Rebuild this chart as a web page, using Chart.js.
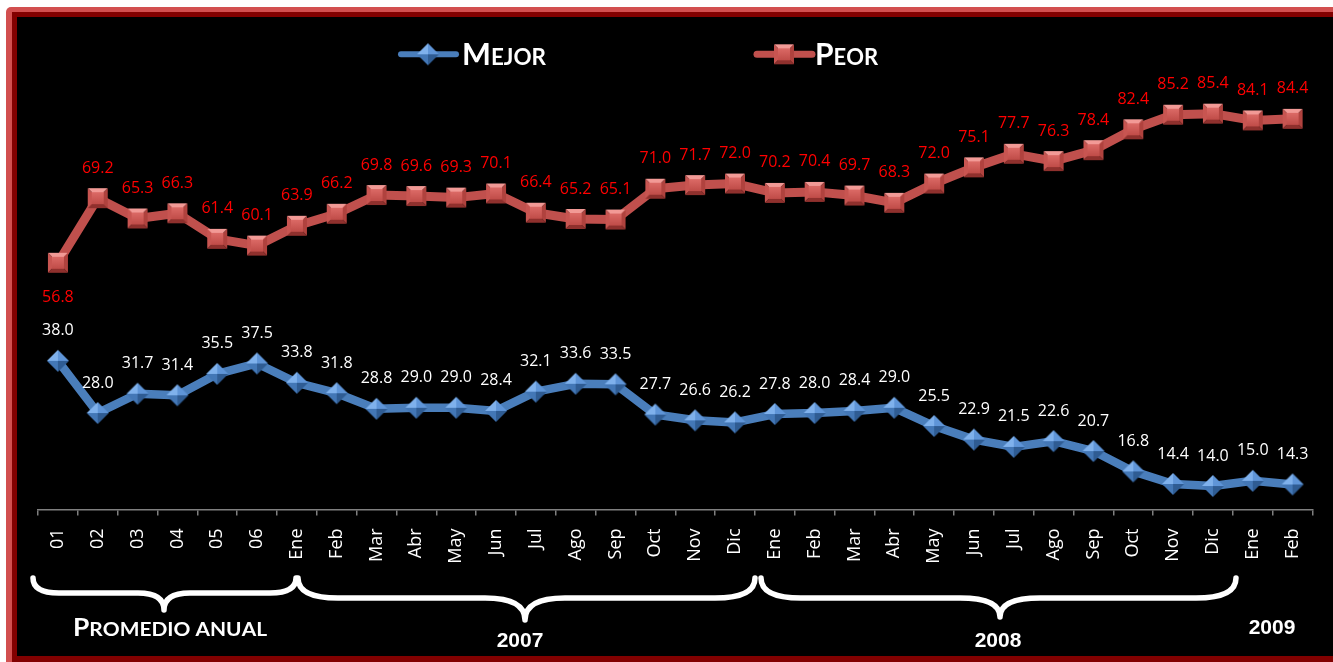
<!DOCTYPE html>
<html><head><meta charset="utf-8">
<script src="https://cdn.jsdelivr.net/npm/chart.js@4.4.0/dist/chart.umd.min.js"></script>
<style>
html,body{margin:0;padding:0;background:#000;overflow:hidden;}
#wrap{position:absolute;left:0;top:0;width:1333px;height:662px;overflow:hidden;background:#fff;}
#f1{position:absolute;left:6px;top:7px;right:0;bottom:0;background:#d24f4f;border-top-left-radius:5px;}
#f2{position:absolute;left:12px;top:12px;right:0;bottom:0;background:#820000;}
#f3{position:absolute;left:17px;top:17px;right:0;height:639px;background:#000;}
#c{position:absolute;left:17px;top:17px;}
</style></head>
<body>
<div id="wrap">
<div id="f1"></div><div id="f2"></div><div id="f3"></div>
<canvas id="c" width="1316" height="639"></canvas>
</div>
<script>
const categories = ['01','02','03','04','05','06','Ene','Feb','Mar','Abr','May','Jun','Jul','Ago','Sep','Oct','Nov','Dic','Ene','Feb','Mar','Abr','May','Jun','Jul','Ago','Sep','Oct','Nov','Dic','Ene','Feb'];
const mejor = [38.0,28.0,31.7,31.4,35.5,37.5,33.8,31.8,28.8,29.0,29.0,28.4,32.1,33.6,33.5,27.7,26.6,26.2,27.8,28.0,28.4,29.0,25.5,22.9,21.5,22.6,20.7,16.8,14.4,14.0,15.0,14.3];
const peor = [56.8,69.2,65.3,66.3,61.4,60.1,63.9,66.2,69.8,69.6,69.3,70.1,66.4,65.2,65.1,71.0,71.7,72.0,70.2,70.4,69.7,68.3,72.0,75.1,77.7,76.3,78.4,82.4,85.2,85.4,84.1,84.4];
const seriesNames = ['Mejor','Peor'];
const groupLabels = ['Promedio anual','2007','2008','2009'];
const peorLabelsBelow = [0];

const BLUE = '#4a7ebb', RED = '#c0504d';

function makeDiamond(){
  const c = document.createElement('canvas'); c.width = 24; c.height = 24;
  const g = c.getContext('2d');
  const tri = (pts, col) => { g.beginPath(); g.moveTo(pts[0][0],pts[0][1]); for (let i=1;i<pts.length;i++) g.lineTo(pts[i][0],pts[i][1]); g.closePath(); g.fillStyle = col; g.fill(); };
  tri([[1,12],[12,1],[12,12]], '#7fb1ec');
  tri([[12,1],[23,12],[12,12]], '#5f95d8');
  tri([[1,12],[12,12],[12,23]], '#4377b6');
  tri([[12,12],[23,12],[12,23]], '#2f5c93');
  return c;
}
function makeSquare(){
  const c = document.createElement('canvas'); c.width = 22; c.height = 22;
  const g = c.getContext('2d');
  const poly = (pts, col) => { g.beginPath(); g.moveTo(pts[0][0],pts[0][1]); for (let i=1;i<pts.length;i++) g.lineTo(pts[i][0],pts[i][1]); g.closePath(); g.fillStyle = col; g.fill(); };
  const a=1,b=21,i1=5,i2=17;
  poly([[a,a],[b,a],[i2,i1],[i1,i1]], '#f29a96');
  poly([[a,a],[i1,i1],[i1,i2],[a,b]], '#c85551');
  poly([[b,a],[b,b],[i2,i2],[i2,i1]], '#b0423e');
  poly([[a,b],[i1,i2],[i2,i2],[b,b]], '#8f302d');
  const gr = g.createLinearGradient(0,i1,0,i2);
  gr.addColorStop(0,'#dc6a66'); gr.addColorStop(1,'#c04c48');
  g.fillStyle = gr; g.fillRect(i1,i1,i2-i1,i2-i1);
  return c;
}
const diamond = makeDiamond();
const square = makeSquare();

function drawSmallCaps(ctx, text, x, y, big, small, family, targetW, align){
  const parts = [];
  for (const ch of text){
    const isBig = ch !== ch.toLowerCase();
    parts.push({t: ch.toUpperCase(), f: 'bold ' + (isBig ? big : small) + 'px ' + family});
  }
  let w = 0;
  parts.forEach(p => { ctx.font = p.f; p.w = ctx.measureText(p.t).width; w += p.w; });
  const s = targetW ? targetW / w : 1;
  ctx.save();
  let startX = align === 'center' ? x - w*s/2 : x;
  ctx.translate(startX, y); ctx.scale(s, 1);
  ctx.textAlign = 'left'; ctx.textBaseline = 'alphabetic';
  let cx = 0;
  parts.forEach(p => { ctx.font = p.f; ctx.fillText(p.t, cx, 0); cx += p.w; });
  ctx.restore();
}

function brace(ctx, x1, x2, xc, yTop, yMid, yTip, r){
  ctx.beginPath();
  ctx.moveTo(x1, yTop);
  ctx.quadraticCurveTo(x1, yMid, x1 + r, yMid);
  ctx.lineTo(xc - r, yMid);
  ctx.quadraticCurveTo(xc, yMid, xc, yTip);
  ctx.quadraticCurveTo(xc, yMid, xc + r, yMid);
  ctx.lineTo(x2 - r, yMid);
  ctx.quadraticCurveTo(x2, yMid, x2, yTop);
  ctx.stroke();
}

const labelsPlugin = {
  id: 'valueLabels',
  afterDatasetsDraw(chart){
    const c = chart.ctx; c.save();
    c.font = '16px "Open Sans"'; c.textAlign = 'center'; c.textBaseline = 'middle';
    const colors = ['#ffffff', '#ff0000'];
    chart.data.datasets.forEach((ds, i) => {
      const meta = chart.getDatasetMeta(i);
      meta.data.forEach((pt, j) => {
        const below = i === 1 && peorLabelsBelow.includes(j);
        c.fillStyle = colors[i];
        c.fillText(ds.data[j].toFixed(1), pt.x, below ? pt.y + 35 : pt.y - 30);
      });
    });
    c.restore();
  }
};

const decoPlugin = {
  id: 'deco',
  afterDraw(chart){
    const c = chart.ctx; c.save();
    const legend = [
      {x1: 384, x2: 439, mx: 411, col: BLUE, img: diamond, w: 6, tx: 445, tw: 84, name: seriesNames[0]},
      {x1: 740, x2: 795, mx: 767, col: RED, img: square, w: 7, tx: 798, tw: 63, name: seriesNames[1]}
    ];
    const ly = 37.3;
    legend.forEach(l => {
      c.strokeStyle = l.col; c.lineWidth = l.w; c.lineCap = 'round';
      c.beginPath(); c.moveTo(l.x1, ly); c.lineTo(l.x2, ly); c.stroke();
      c.drawImage(l.img, l.mx - l.img.width/2, ly - l.img.height/2);
      c.fillStyle = '#fff';
      drawSmallCaps(c, l.name, l.tx, 47.5, 30, 22, 'Lato', l.tw, 'left');
    });
    c.strokeStyle = '#fff'; c.lineWidth = 5.5; c.lineCap = 'round'; c.lineJoin = 'round';
    brace(c, 16, 279, 147, 561, 576, 593, 26);
    brace(c, 281, 738, 508, 561, 581, 603, 40);
    brace(c, 744, 1219, 983, 561, 581, 600, 40);
    c.fillStyle = '#fff';
    drawSmallCaps(c, groupLabels[0], 56, 618.7, 24, 19, 'Lato', 194, 'left');
    c.font = 'bold 21px "Liberation Sans Narrow", "Liberation Sans"';
    c.textAlign = 'center'; c.textBaseline = 'alphabetic';
    c.fillText(groupLabels[1], 503, 629.7);
    c.fillText(groupLabels[2], 981, 629.7);
    c.fillText(groupLabels[3], 1255, 617.3);
    c.restore();
  }
};

new Chart(document.getElementById('c').getContext('2d'), {
  type: 'line',
  data: {
    labels: categories,
    datasets: [
      {label: seriesNames[0], data: mejor, borderColor: BLUE, backgroundColor: BLUE, borderWidth: 8.5,
       pointStyle: diamond, pointRadius: 12, pointHoverRadius: 12, tension: 0, borderJoinStyle: 'round', borderCapStyle: 'round'},
      {label: seriesNames[1], data: peor, borderColor: RED, backgroundColor: RED, borderWidth: 9,
       pointStyle: square, pointRadius: 11, pointHoverRadius: 11, tension: 0, borderJoinStyle: 'round', borderCapStyle: 'round'}
    ]
  },
  options: {
    responsive: false, animation: false, devicePixelRatio: 1,
    layout: {padding: {left: 21, right: 18, top: 19.4, bottom: 0}},
    plugins: {legend: {display: false}, tooltip: {enabled: false}},
    scales: {
      x: {
        offset: true,
        grid: {offset: true, drawOnChartArea: false, drawTicks: true, tickLength: 6, color: '#7f7f7f', lineWidth: 1.5},
        border: {color: '#7f7f7f', width: 1.5},
        ticks: {color: '#ffffff', font: {family: 'Open Sans', size: 18}, maxRotation: 90, minRotation: 90, padding: 13, autoSkip: false},
        afterFit: (s) => { s.height = 146.5; }
      },
      y: {display: false, min: 9.5, max: 100}
    }
  },
  plugins: [labelsPlugin, decoPlugin]
});
</script>
</body></html>
